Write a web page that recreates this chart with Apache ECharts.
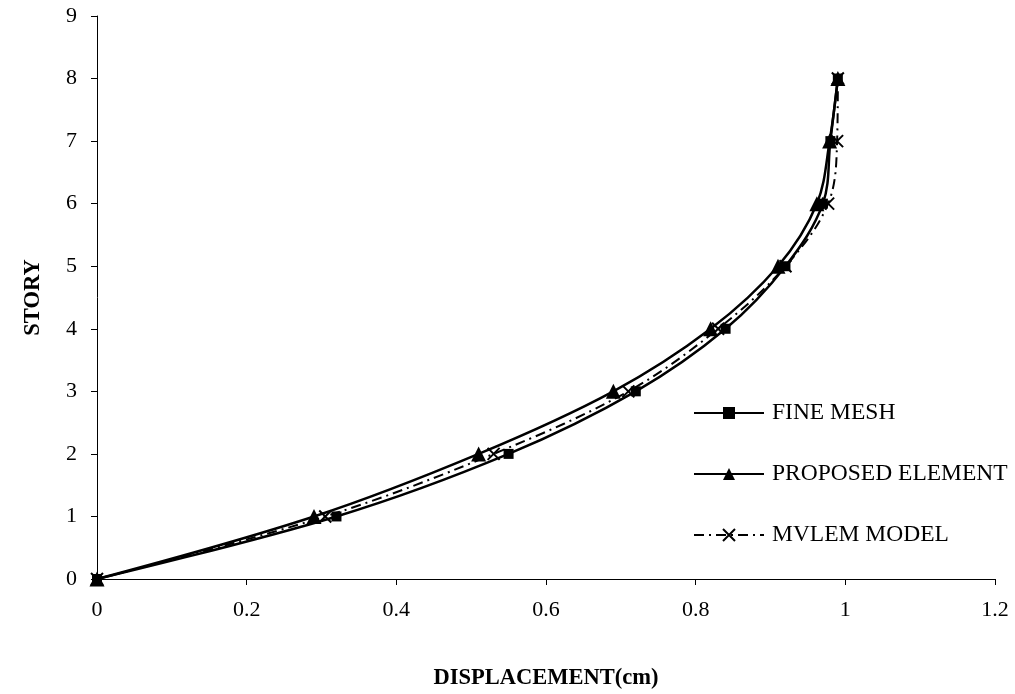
<!DOCTYPE html>
<html><head><meta charset="utf-8">
<script src="https://cdn.jsdelivr.net/npm/echarts@6/dist/echarts.min.js"></script>
<style>html,body{margin:0;padding:0;background:#fff}#c{width:1015px;height:694px}</style>
</head><body><div id="c"></div>
<script>
const stories = [0, 1, 2, 3, 4, 5, 6, 7, 8];
const fineMesh = [0, 0.32, 0.55, 0.72, 0.84, 0.92, 0.97, 0.98, 0.99];
const proposed = [0, 0.29, 0.51, 0.69, 0.82, 0.91, 0.962, 0.979, 0.99];
const mvlem = [0, 0.305, 0.53, 0.71, 0.83, 0.92, 0.977, 0.989, 0.99];
const names = ['FINE MESH', 'PROPOSED ELEMENT', 'MVLEM MODEL'];

const pairs = xs => xs.map((x, i) => [x, stories[i]]);
const font = '"Liberation Serif","Times New Roman",serif';
const chart = echarts.init(document.getElementById('c'));
const crossPath = 'path://M0,0L10,10M10,0L0,10';
chart.setOption({
  backgroundColor: '#fff',
  animation: false,
  grid: {left: 97, right: 20, top: 16, bottom: 115, containLabel: false, outerBoundsMode: 'none'},
  legend: {
    orient: 'vertical', left: 688, top: 396, itemGap: 37,
    itemWidth: 70, itemHeight: 15,
    textStyle: {fontFamily: font, fontSize: 23.5, color: '#000', padding: [0,0,0,3]},
    data: [names[0], names[1], names[2]]
  },
  xAxis: {
    type: 'value', min: 0, max: 1.2, interval: 0.2,
    name: 'DISPLACEMENT(cm)', nameLocation: 'middle', nameGap: 88,
    nameTextStyle: {fontFamily: font, fontSize: 22.5, fontWeight: 'bold', color: '#000'},
    axisLine: {lineStyle: {color: '#000', width: 1}},
    axisTick: {show: true, length: 6, lineStyle: {color: '#000'}},
    axisLabel: {fontFamily: font, fontSize: 22, color: '#000', margin: 20},
    splitLine: {show: false}
  },
  yAxis: {
    type: 'value', min: 0, max: 9, interval: 1,
    name: 'STORY', nameLocation: 'middle', nameGap: 52, nameRotate: 90,
    nameTextStyle: {fontFamily: font, fontSize: 22.5, fontWeight: 'bold', color: '#000'},
    axisLine: {show: true, lineStyle: {color: '#000', width: 1}},
    axisTick: {show: true, length: 6, lineStyle: {color: '#000'}},
    axisLabel: {fontFamily: font, fontSize: 22, color: '#000', margin: 20},
    splitLine: {show: false}
  },
  series: [
    {
      name: names[2], type: 'line', data: pairs(mvlem), smooth: 0.35, z: 2,
      symbol: crossPath, symbolSize: 12,
      lineStyle: {color: '#000', width: 2, type: [10, 5, 2, 5]},
      itemStyle: {color: 'rgba(0,0,0,0)', borderColor: '#000', borderWidth: 2}
    },
    {
      name: names[1], type: 'line', data: pairs(proposed), smooth: 0.35, z: 3,
      symbol: 'triangle', symbolSize: 15,
      lineStyle: {color: '#000', width: 2.5},
      itemStyle: {color: '#000'}
    },
    {
      name: names[0], type: 'line', data: pairs(fineMesh), smooth: 0.35, z: 4,
      symbol: 'rect', symbolSize: 10,
      lineStyle: {color: '#000', width: 2.5},
      itemStyle: {color: '#000'}
    }
  ]
});
</script></body></html>
